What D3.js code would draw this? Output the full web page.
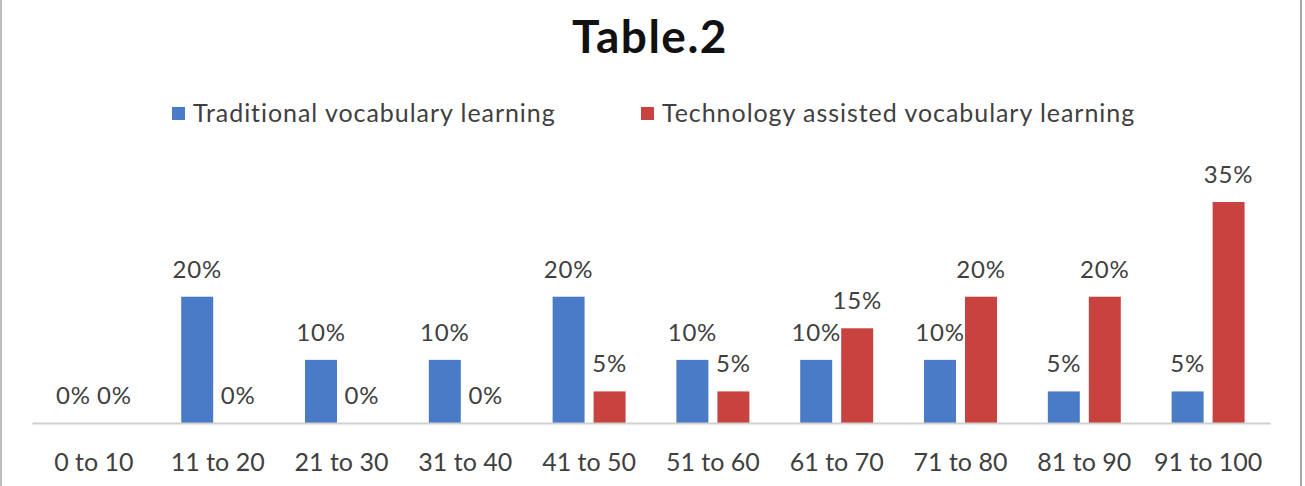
<!DOCTYPE html>
<html>
<head>
<meta charset="utf-8">
<script src="https://cdn.jsdelivr.net/npm/d3@7"></script>
<style>
  html, body { margin: 0; padding: 0; background: #fff; }
  svg { display: block; font-family: Lato, "Open Sans", sans-serif; }
</style>
</head>
<body>
<svg id="chart_svg" width="1305" height="486"></svg>
<script>
// chart values
const categories = ["0 to 10", "11 to 20", "21 to 30", "31 to 40", "41 to 50",
  "51 to 60", "61 to 70", "71 to 80", "81 to 90", "91 to 100"];
const seriesNames = ["Traditional vocabulary learning", "Technology assisted vocabulary learning"];
const traditional = [0, 20, 10, 10, 20, 10, 10, 10, 5, 5];
const technology = [0, 0, 0, 0, 5, 5, 15, 20, 20, 35];
const colors = ["#4a7bc6", "#c8423f"];

const svg = d3.select("#chart_svg");
const width = 1305;

const margin = { left: 32, right: 35, top: 202, baseline: 423 };

// frame lines on the left and right
svg.append("line").attr("x1", 1).attr("x2", 1).attr("y1", 0).attr("y2", 486)
  .attr("stroke", "#bdbdbd").attr("stroke-width", 2);
svg.append("line").attr("x1", 1301).attr("x2", 1301).attr("y1", 0).attr("y2", 486)
  .attr("stroke", "#a6a6a6").attr("stroke-width", 2);

// title
svg.append("text")
  .attr("x", 650).attr("y", 53)
  .attr("text-anchor", "middle")
  .attr("font-size", 46).attr("font-weight", "bold")
  .attr("letter-spacing", 1.5)
  .attr("fill", "#111")
  .text("Table.2");

// legend
const legendX = [172, 641];
const legend = svg.append("g").selectAll("g").data(seriesNames).enter().append("g")
  .attr("transform", (d, i) => "translate(" + legendX[i] + ",107)");
legend.append("rect").attr("width", 13).attr("height", 13)
  .attr("fill", (d, i) => colors[i]);
legend.append("text").attr("x", 21).attr("y", 15)
  .attr("font-size", 25).attr("letter-spacing", 0.95)
  .attr("fill", "#404040")
  .text(d => d);

// scales
const x0 = d3.scaleBand()
  .domain(categories)
  .range([margin.left, width - margin.right]);

const x1 = d3.scaleBand()
  .domain([0, 1])
  .range([0, x0.bandwidth()])
  .paddingInner(0.22)
  .paddingOuter(0.62);

const y = d3.scaleLinear()
  .domain([0, 35])
  .range([margin.baseline, margin.top]);

const rows = categories.map((c, i) => ({ cat: c, values: [traditional[i], technology[i]] }));

const groups = svg.append("g").selectAll("g").data(rows).enter().append("g")
  .attr("transform", d => "translate(" + x0(d.cat) + ",0)");

groups.selectAll("rect").data(d => d.values).enter().append("rect")
  .attr("x", (d, i) => x1(i))
  .attr("width", x1.bandwidth())
  .attr("y", d => y(d))
  .attr("height", d => y(0) - y(d))
  .attr("fill", (d, i) => colors[i]);

// axis line + category labels
const xAxis = d3.axisBottom(x0).tickSize(0).tickPadding(30);
const gx = svg.append("g")
  .attr("transform", "translate(0," + margin.baseline + ")")
  .call(xAxis);
gx.select(".domain").attr("stroke", "#d0d0d0").attr("stroke-width", 2);
gx.selectAll("text")
  .attr("font-family", "Lato, sans-serif")
  .attr("font-size", 25).attr("fill", "#404040");

// value labels
groups.selectAll(".val").data(d => d.values).enter().append("text")
  .attr("class", "val")
  .attr("x", (d, i) => x1(i) + x1.bandwidth() / 2)
  .attr("y", d => y(d) - 19)
  .attr("text-anchor", "middle")
  .attr("font-size", 24).attr("letter-spacing", 0.8)
  .attr("fill", "#404040")
  .text(d => d + "%");
</script>
</body>
</html>
